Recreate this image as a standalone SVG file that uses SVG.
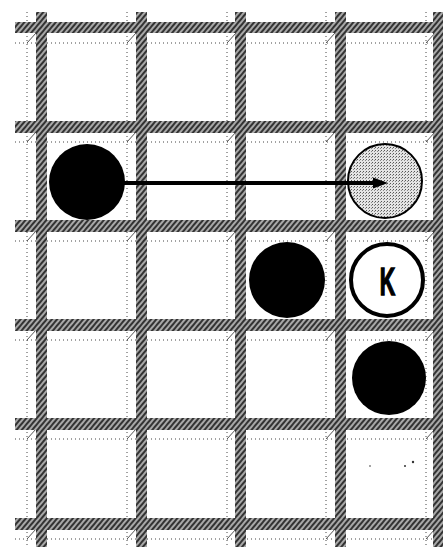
<svg xmlns="http://www.w3.org/2000/svg" width="443" height="547" viewBox="0 0 443 547">
  <style>
    .hbar { fill: url(#hatch); }
    .vbar { fill: url(#hatch); }
    .dot { stroke: #444; stroke-width: 1; stroke-dasharray: 1 3; fill: none; }
    .diag { stroke: #555; stroke-width: 1; fill: none; }
    .black { fill: #000; }
    .label { font-family: "Liberation Sans", Arial, sans-serif; font-weight: bold; font-size: 39px; fill: #000; stroke: #000; stroke-width: 1.5; }
  </style>
  <defs>
    <pattern id="hatch" width="4" height="4" patternUnits="userSpaceOnUse" patternTransform="rotate(40)">
      <rect width="4" height="4" fill="#a8a8a8"/>
      <rect width="2" height="4" fill="#333"/>
    </pattern>
    <pattern id="stipple" width="3" height="3" patternUnits="userSpaceOnUse">
      <rect width="3" height="3" fill="#e4e4e4"/>
      <rect width="1" height="1" fill="#555"/>
      <rect x="2" y="1" width="1" height="1" fill="#888"/>
    </pattern>
  </defs>
  <rect width="443" height="547" fill="#fff"/>

  <g id="board">
    <g class="dot">
      <line x1="27" y1="12" x2="27" y2="547"/>
      <line x1="127" y1="12" x2="127" y2="547"/>
      <line x1="227" y1="12" x2="227" y2="547"/>
      <line x1="326" y1="12" x2="326" y2="547"/>
      <line x1="426" y1="12" x2="426" y2="547"/>
      <line x1="15" y1="43" x2="443" y2="43"/>
      <line x1="15" y1="142" x2="443" y2="142"/>
      <line x1="15" y1="241" x2="443" y2="241"/>
      <line x1="15" y1="340" x2="443" y2="340"/>
      <line x1="15" y1="439" x2="443" y2="439"/>
      <line x1="15" y1="539" x2="443" y2="539"/>
    </g>
    <path class="diag" d="M27,43 L36,33 M127,43 L136,33 M227,43 L236,33 M326,43 L335,33 M426,43 L435,33
      M27,142 L36,132 M127,142 L136,132 M227,142 L236,132 M326,142 L335,132 M426,142 L435,132
      M27,241 L36,231 M127,241 L136,231 M227,241 L236,231 M326,241 L335,231 M426,241 L435,231
      M27,340 L36,330 M127,340 L136,330 M227,340 L236,330 M326,340 L335,330 M426,340 L435,330
      M27,439 L36,429 M127,439 L136,429 M227,439 L236,429 M326,439 L335,429 M426,439 L435,429
      M27,539 L36,529 M127,539 L136,529 M227,539 L236,529 M326,539 L335,529 M426,539 L435,529"/>
    <rect class="hbar" x="15" y="22" width="428" height="11"/>
    <rect class="hbar" x="15" y="121" width="428" height="12"/>
    <rect class="hbar" x="15" y="220" width="428" height="12"/>
    <rect class="hbar" x="15" y="319" width="428" height="12"/>
    <rect class="hbar" x="15" y="418" width="428" height="12"/>
    <rect class="hbar" x="15" y="518" width="428" height="12"/>
    <rect class="vbar" x="36" y="12" width="11" height="535"/>
    <rect class="vbar" x="136" y="12" width="11" height="535"/>
    <rect class="vbar" x="235" y="12" width="11" height="535"/>
    <rect class="vbar" x="335" y="12" width="11" height="535"/>
    <rect class="vbar" x="433" y="12" width="10" height="535"/>
    <circle cx="370" cy="466" r="0.8" fill="#333"/>
    <circle cx="405" cy="466" r="1" fill="#333"/>
    <circle cx="413" cy="462" r="1.2" fill="#333"/>
  </g>

  <g id="piece-a">
    <circle class="black" cx="87" cy="182" r="38"/>
  </g>
  <g id="piece-target">
    <circle cx="385" cy="181" r="37" fill="url(#stipple)" stroke="#000" stroke-width="2"/>
  </g>
  <g id="connectors">
    <line x1="120" y1="183" x2="374" y2="183" stroke="#000" stroke-width="4"/>
    <path d="M373,177.5 L388,183 L373,188.5 Z" fill="#000"/>
  </g>
  <g id="piece-b">
    <circle class="black" cx="287" cy="280" r="38"/>
  </g>
  <g id="piece-king">
    <circle cx="387" cy="280" r="36" fill="#fff" stroke="#000" stroke-width="4"/>
    <text class="label" x="387.5" y="295" text-anchor="middle" transform="translate(387.5 0) scale(0.55 1) translate(-387.5 0)">K</text>
  </g>
  <g id="piece-c">
    <circle class="black" cx="389" cy="378" r="37"/>
  </g>
</svg>
